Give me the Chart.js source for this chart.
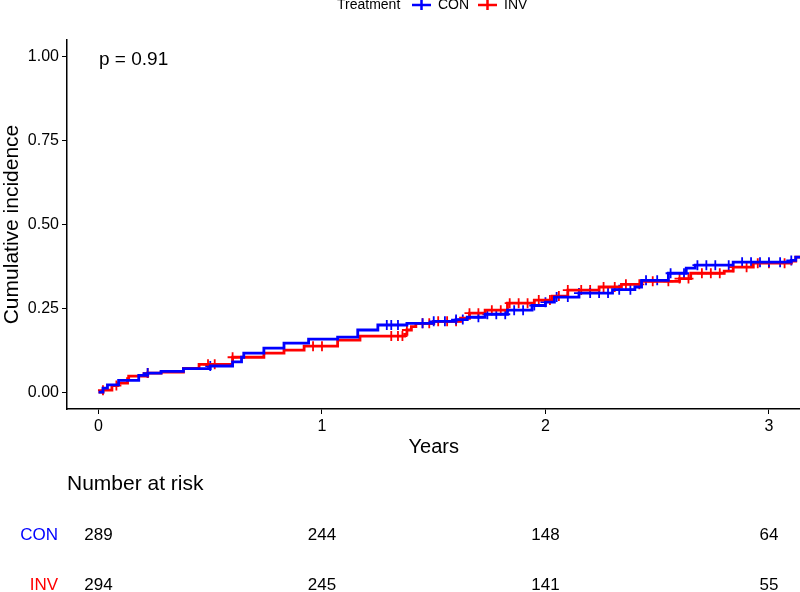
<!DOCTYPE html>
<html>
<head>
<meta charset="utf-8">
<script src="https://cdn.jsdelivr.net/npm/chart.js@4.4.1/dist/chart.umd.min.js"></script>
<style>
  html, body { margin: 0; padding: 0; background: #fff; }
  #wrap { width: 800px; height: 592px; }
</style>
</head>
<body>
<div id="wrap"><canvas id="grafico" width="800" height="592"></canvas></div>
<script>
// Curvas de incidência acumulada (tempo em anos, valor após o degrau)
const conTimes  = [0, 0.02, 0.04, 0.09, 0.18, 0.22, 0.28, 0.38, 0.5, 0.6, 0.64, 0.65, 0.74, 0.83, 0.94, 1.07, 1.16, 1.25, 1.38, 1.5, 1.6, 1.65, 1.73, 1.83, 1.94, 2.0, 2.04, 2.15, 2.3, 2.4, 2.43, 2.55, 2.63, 2.67, 2.84, 3.1, 3.12, 3.15];
const conValues = [0, 0.012, 0.022, 0.035, 0.05, 0.057, 0.062, 0.07, 0.078, 0.09, 0.104, 0.116, 0.131, 0.146, 0.158, 0.164, 0.185, 0.2, 0.205, 0.211, 0.216, 0.223, 0.232, 0.244, 0.258, 0.268, 0.283, 0.295, 0.305, 0.313, 0.333, 0.354, 0.369, 0.378, 0.387, 0.392, 0.402, 0.402];
const invTimes  = [0, 0.02, 0.06, 0.085, 0.13, 0.135, 0.22, 0.28, 0.38, 0.45, 0.6, 0.74, 0.83, 0.92, 1.07, 1.17, 1.37, 1.38, 1.4, 1.42, 1.5, 1.62, 1.66, 1.73, 1.83, 1.95, 2.03, 2.1, 2.24, 2.34, 2.43, 2.6, 2.65, 2.8, 2.84, 2.93, 3.1, 3.12, 3.15];
const invValues = [0, 0.006, 0.02, 0.027, 0.04, 0.048, 0.057, 0.06, 0.071, 0.083, 0.104, 0.116, 0.125, 0.137, 0.155, 0.167, 0.172, 0.185, 0.195, 0.205, 0.211, 0.22, 0.235, 0.244, 0.265, 0.274, 0.286, 0.304, 0.313, 0.321, 0.33, 0.338, 0.354, 0.36, 0.372, 0.384, 0.39, 0.402, 0.402];

// Tempos de censura (marcas "+")
const conCensor = [0.22, 0.5, 1.29, 1.31, 1.34, 1.45, 1.5, 1.55, 1.6, 1.63, 1.7, 1.74, 1.78, 1.82, 1.86, 1.9, 1.95, 2.0, 2.05, 2.1, 2.15, 2.2, 2.24, 2.28, 2.33, 2.38, 2.45, 2.5, 2.56, 2.62, 2.68, 2.72, 2.76, 2.82, 2.88, 2.92, 2.96, 3.0, 3.05, 3.1];
const invCensor = [0.02, 0.08, 0.22, 0.49, 0.52, 0.6, 0.96, 1.0, 1.31, 1.34, 1.36, 1.38, 1.45, 1.48, 1.52, 1.56, 1.6, 1.66, 1.7, 1.76, 1.8, 1.84, 1.88, 1.92, 1.97, 2.02, 2.06, 2.1, 2.16, 2.2, 2.26, 2.31, 2.36, 2.42, 2.48, 2.55, 2.6, 2.64, 2.7, 2.74, 2.78, 2.84, 2.9, 2.95, 3.0, 3.07];

// Tabela de número em risco
const riskTimes = [0, 1, 2, 3];
const riskCon = [289, 244, 148, 64];
const riskInv = [294, 245, 141, 55];

const xTicks = [0, 1, 2, 3];
const yTicks = [0, 0.25, 0.5, 0.75, 1];

const BLUE = "#0000FF";
const RED = "#FF0000";
const FONT = "'Liberation Sans', Arial, sans-serif";

function stepValue(times, values, t) {
  let v = values[0];
  for (let i = 0; i < times.length; i++) {
    if (times[i] <= t) v = values[i];
  }
  return v;
}

const toXY = (ts, vs) => ts.map((t, i) => ({ x: t, y: vs[i] }));
const censorXY = (cs, ts, vs) => cs.map(t => ({ x: t, y: stepValue(ts, vs, t) }));

// Plugin para textos extras: legenda, p-valor, eixo X e tabela
const extras = {
  id: "extras",
  afterDraw(chart) {
    const ctx = chart.ctx;
    const xs = chart.scales.x;
    ctx.save();
    ctx.fillStyle = "#000";
    ctx.textBaseline = "middle";

    // legenda no topo
    ctx.font = "14px " + FONT;
    ctx.textAlign = "left";
    ctx.fillText("Treatment", 337, 5);
    const drawKey = (x, color, label) => {
      ctx.strokeStyle = color;
      ctx.lineWidth = 2.5;
      ctx.beginPath();
      ctx.moveTo(x, 5); ctx.lineTo(x + 19, 5);
      ctx.moveTo(x + 9.5, 0); ctx.lineTo(x + 9.5, 10);
      ctx.stroke();
      ctx.fillStyle = "#000";
      ctx.fillText(label, x + 26, 5);
    };
    drawKey(412, BLUE, "CON");
    drawKey(478, RED, "INV");

    // p-valor
    ctx.font = "19px " + FONT;
    ctx.fillText("p = 0.91", 99, 60);

    // título do eixo X
    ctx.font = "20px " + FONT;
    ctx.textAlign = "center";
    ctx.fillText("Years", xs.getPixelForValue(1.5), 447);

    // número em risco
    ctx.font = "21px " + FONT;
    ctx.textAlign = "left";
    ctx.fillText("Number at risk", 67, 484);

    ctx.font = "17px " + FONT;
    ctx.textAlign = "right";
    ctx.fillStyle = BLUE;
    ctx.fillText("CON", 58, 535);
    ctx.fillStyle = RED;
    ctx.fillText("INV", 58, 585);

    ctx.fillStyle = "#000";
    ctx.textAlign = "center";
    riskTimes.forEach((t, i) => {
      const px = xs.getPixelForValue(t);
      ctx.fillText(String(riskCon[i]), px, 535);
      ctx.fillText(String(riskInv[i]), px, 585);
    });
    ctx.restore();
  }
};

document.addEventListener("DOMContentLoaded", function () {
  Chart.defaults.font.family = FONT;
  const ctx = document.getElementById("grafico").getContext("2d");
  new Chart(ctx, {
    type: "line",
    data: {
      datasets: [
        {
          label: "CON",
          data: toXY(conTimes, conValues),
          borderColor: BLUE,
          borderWidth: 2.8,
          stepped: true,
          pointRadius: 0,
          fill: false,
        },
        {
          label: "INV",
          data: toXY(invTimes, invValues),
          borderColor: RED,
          borderWidth: 2.8,
          stepped: true,
          pointRadius: 0,
          fill: false,
        },
        {
          type: "scatter",
          label: "CON censor",
          data: censorXY(conCensor, conTimes, conValues),
          pointStyle: "cross",
          pointRadius: 5,
          borderColor: BLUE,
          borderWidth: 1.8,
        },
        {
          type: "scatter",
          label: "INV censor",
          data: censorXY(invCensor, invTimes, invValues),
          pointStyle: "cross",
          pointRadius: 5,
          borderColor: RED,
          borderWidth: 1.8,
        },
      ],
    },
    options: {
      responsive: false,
      animation: false,
      layout: { autoPadding: false, padding: { top: 40, left: 0, right: 0, bottom: 0 } },
      plugins: {
        legend: { display: false },
        tooltip: { enabled: false },
      },
      scales: {
        x: {
          type: "linear",
          min: -0.141,
          max: 3.139,
          afterBuildTicks: s => { s.ticks = xTicks.map(v => ({ value: v })); },
          afterFit: s => { s.height = 592 - 409; s.paddingRight = 0; s.paddingLeft = 0; },
          ticks: {
            color: "#000",
            font: { size: 16 },
            padding: 3,
            maxRotation: 0,
            callback: v => String(v),
          },
          grid: { drawOnChartArea: false, tickLength: 5, color: "#000", lineWidth: 1 },
          border: { color: "#000", width: 1.5 },
        },
        y: {
          min: -0.05,
          max: 1.048,
          afterBuildTicks: s => { s.ticks = yTicks.map(v => ({ value: v })); },
          afterFit: s => { s.width = 67; s.paddingTop = 0; s.paddingBottom = 0; },
          ticks: {
            color: "#000",
            font: { size: 16 },
            padding: 3,
            callback: v => Number(v).toFixed(2),
          },
          grid: { drawOnChartArea: false, tickLength: 5, color: "#000", lineWidth: 1 },
          border: { color: "#000", width: 1.5 },
          title: {
            display: true,
            text: "Cumulative incidence",
            color: "#000",
            font: { size: 21 },
            padding: { top: 0, bottom: 0 },
          },
        },
      },
    },
    plugins: [extras],
  });
});
</script>
</body>
</html>
